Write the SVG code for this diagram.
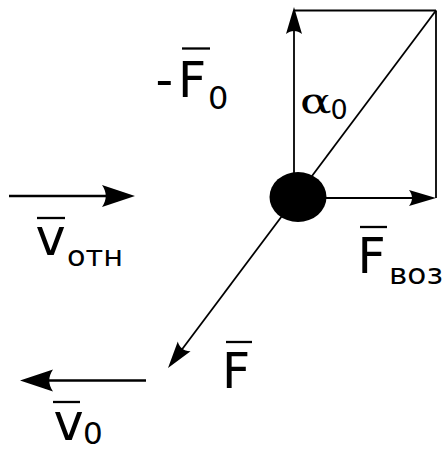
<svg xmlns="http://www.w3.org/2000/svg" width="444" height="452" viewBox="0 0 444 452">
<style>
.ln{stroke:#000;stroke-width:1.8;fill:none}
.vl{stroke:#000;stroke-width:2.5;fill:none}
.bar{stroke:#000;stroke-width:2.3}
text{font-family:"DejaVu Sans",sans-serif;fill:#000}
.big{font-size:49px}
</style>
<defs>
<marker id="hs" markerUnits="userSpaceOnUse" orient="auto" overflow="visible" markerWidth="1" markerHeight="1" refX="0" refY="0">
<path d="M6,0 L-21,-8 C-17,-3 -17,3 -21,8 Z" fill="#000"/>
</marker>
<marker id="hl" markerUnits="userSpaceOnUse" orient="auto" overflow="visible" markerWidth="1" markerHeight="1" refX="0" refY="0">
<path d="M8,0 L-25,-11 C-20,-4 -20,4 -25,11 Z" fill="#000"/>
</marker>
</defs>
<rect width="444" height="452" fill="#fff"/>
<g id="connectors">
<line class="ln" x1="294" y1="10.5" x2="436" y2="10.5"/>
<line class="ln" x1="436" y1="10.5" x2="436" y2="198"/>
<line class="ln" x1="294" y1="197" x2="294" y2="13" marker-end="url(#hs)"/>
<line class="ln" x1="298" y1="198" x2="430" y2="198" marker-end="url(#hs)"/>
<line class="ln" x1="436" y1="10.5" x2="171.6" y2="363.2" marker-end="url(#hs)"/>
<line class="vl" x1="9" y1="196" x2="127" y2="196" marker-end="url(#hl)"/>
<line class="vl" x1="146" y1="380.5" x2="28" y2="380.5" marker-end="url(#hl)"/>
</g>
<g id="body">
<ellipse cx="298" cy="197" rx="28.5" ry="25" fill="#000"/>
</g>
<g id="label-minus-F0">
<text class="big" x="155.6" y="97">-</text>
<text class="big" x="178" y="97">F</text>
<line class="bar" x1="182" y1="48.5" x2="210" y2="48.5"/>
<text x="208" y="109" style="font-size:32px">0</text>
</g>
<g id="label-alpha0">
<text x="0" y="0" transform="translate(300,113) scale(1.3,1)" style="font-family:'DejaVu Serif',serif;font-size:36px">α</text>
<text x="330.5" y="119" style="font-size:27px">0</text>
</g>
<g id="label-v-otn">
<text x="35.5" y="255" style="font-size:51px">v</text>
<line class="bar" x1="37" y1="218" x2="65" y2="218"/>
<text x="67" y="266" style="font-size:29px" textLength="56" lengthAdjust="spacingAndGlyphs">отн</text>
</g>
<g id="label-F-voz">
<text class="big" x="357.5" y="273">F</text>
<line class="bar" x1="360" y1="227" x2="387" y2="227"/>
<text x="389" y="284" style="font-size:29px" textLength="54" lengthAdjust="spacingAndGlyphs">воз</text>
</g>
<g id="label-F">
<text class="big" x="222" y="388">F</text>
<line class="bar" x1="226" y1="342" x2="252" y2="342"/>
</g>
<g id="label-v0">
<text x="53.5" y="440" style="font-size:51px">v</text>
<line class="bar" x1="53" y1="402" x2="80" y2="402"/>
<text x="83" y="444" style="font-size:31px">0</text>
</g>
</svg>
